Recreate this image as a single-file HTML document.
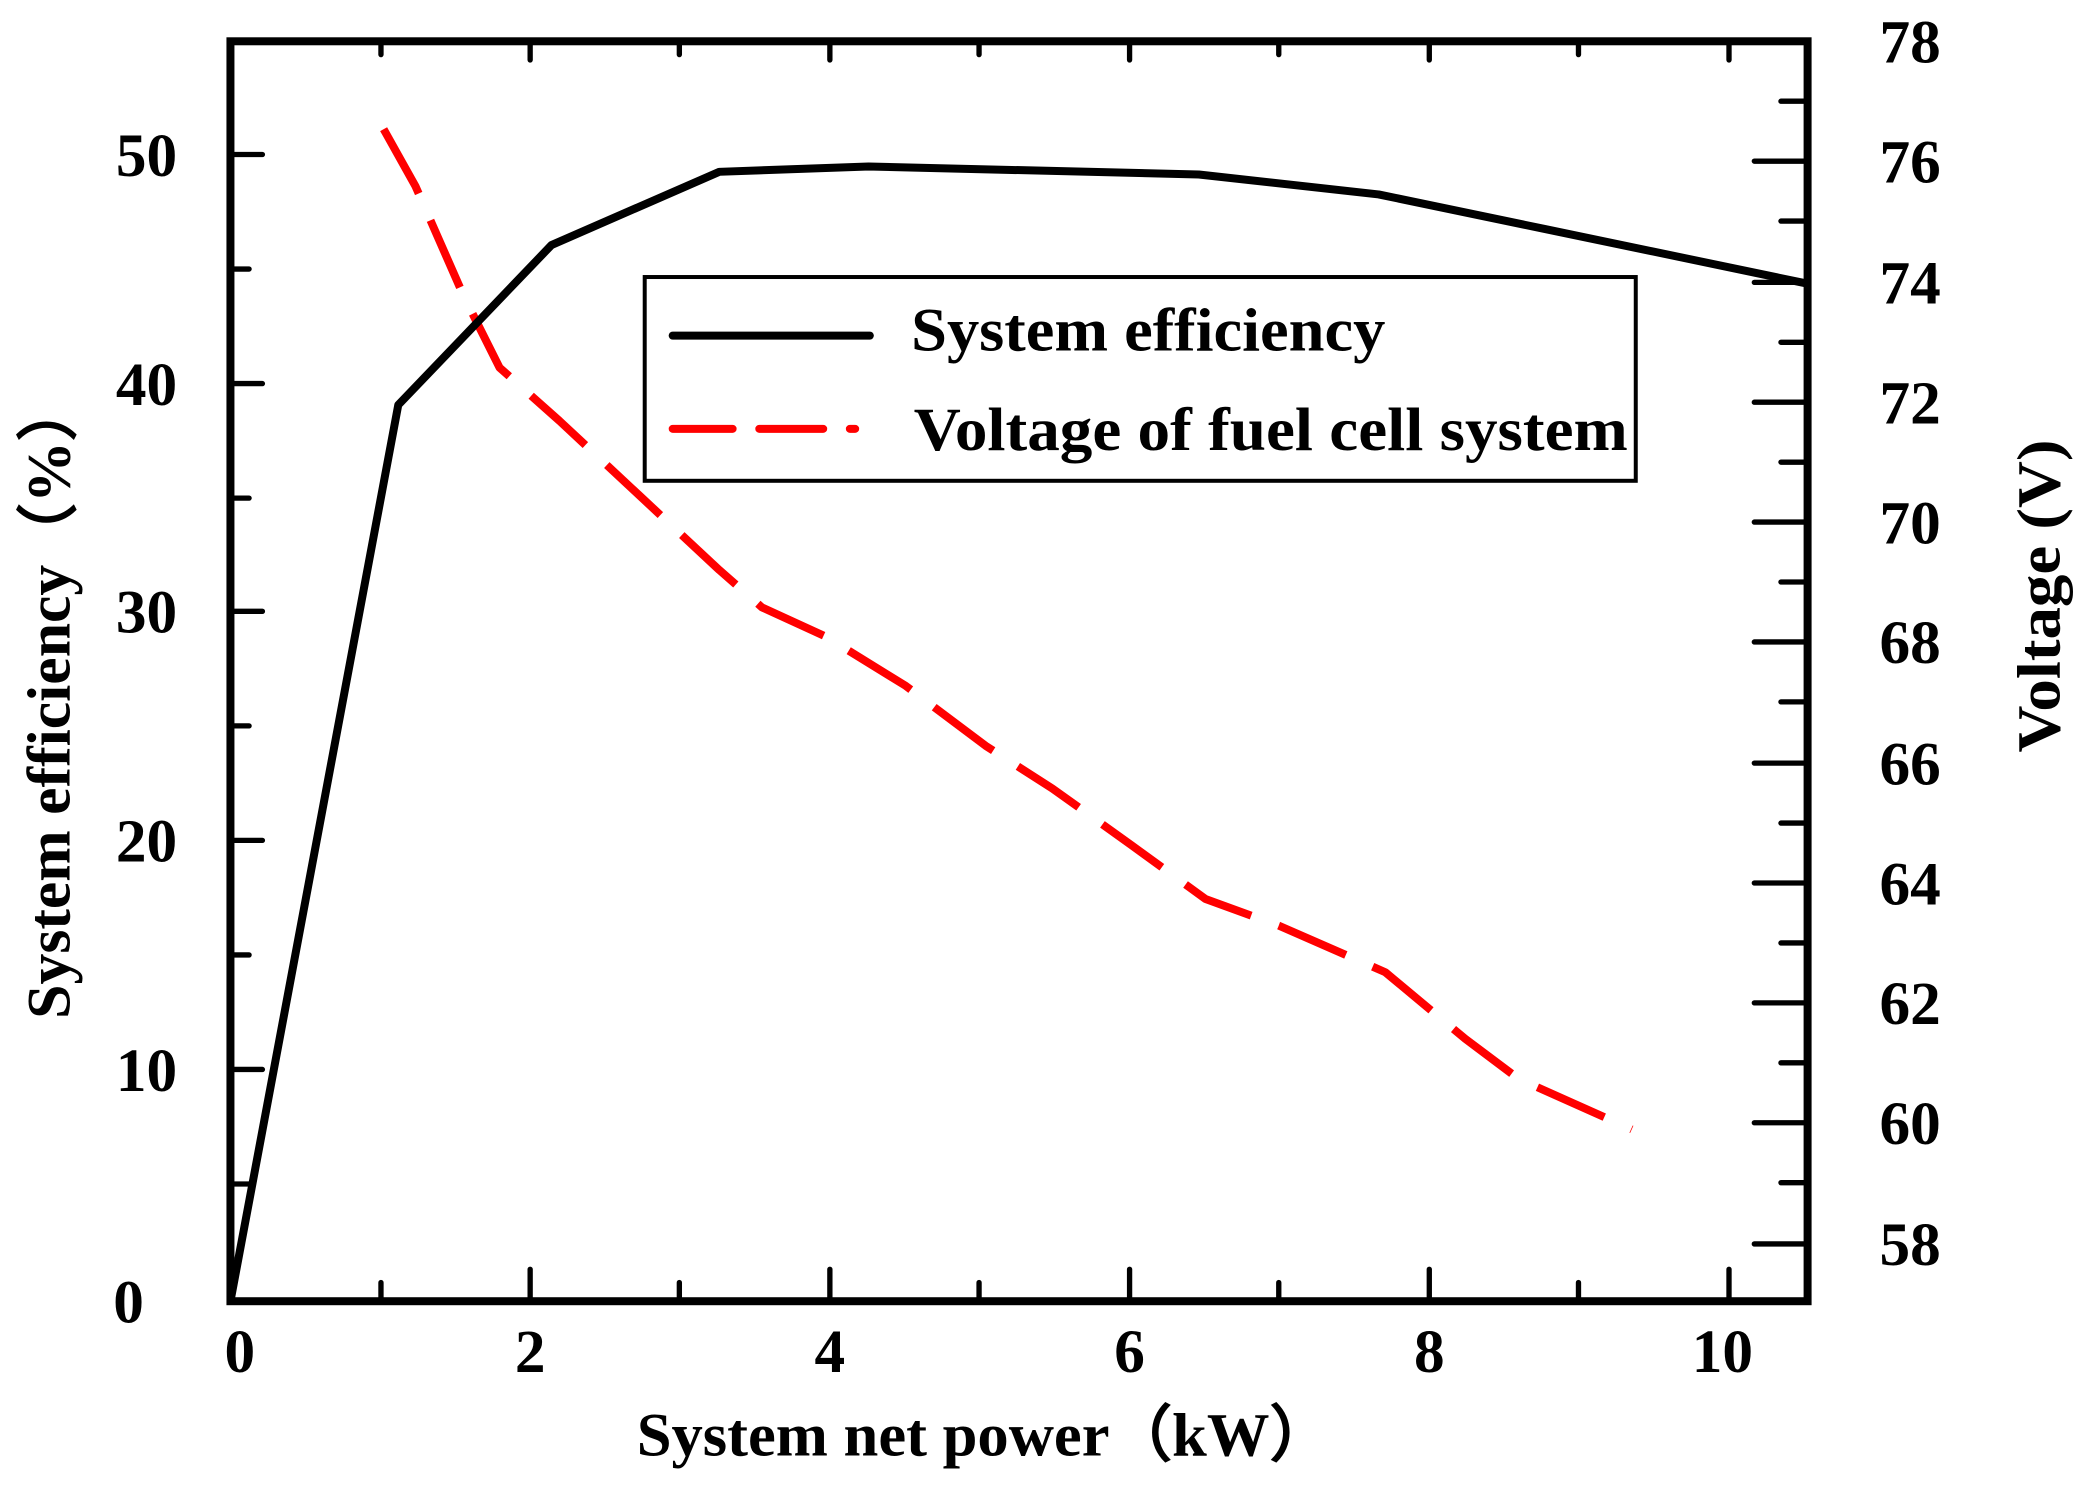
<!DOCTYPE html>
<html><head><meta charset="utf-8"><style>html,body{margin:0;padding:0;background:#fff}svg{display:block}</style></head>
<body>
<svg width="2078" height="1493" viewBox="0 0 1560 1121" preserveAspectRatio="none" xmlns="http://www.w3.org/2000/svg">
<g font-family="Liberation Serif, serif" font-weight="bold" fill="#000">
<polyline fill="none" stroke="#f00" stroke-width="6" stroke-dasharray="55 22" stroke-linejoin="round" points="288,97 312,140 348,222 375,276 420,316 480,372 540,428 572,456 620,478 680,515 740,560 790,592 850,635 905,675 960,695 1040,730 1100,780 1140,810 1225,848"/>
<polyline fill="none" stroke="#000" stroke-width="6" stroke-linejoin="round" points="173,977 299,304 414,184 540,129 652,125 900,131 1035,146 1160,172 1357,213"/>
<rect x="173" y="31" width="1184" height="946" fill="none" stroke="#000" stroke-width="6"/>
<g stroke="#000" stroke-width="4" stroke-linecap="round">
<path d="M398,977v-24M623,977v-24M848,977v-24M1073,977v-24M1298,977v-24M286,977v-14M510,977v-14M735,977v-14M960,977v-14M1185,977v-14M1298,31v14M1073,31v14M848,31v14M623,31v14M398,31v14M286,31v10M510,31v10M735,31v10M960,31v10M1185,31v10"/>
<path d="M173,803h24M173,631h24M173,459h24M173,288h24M173,116h24M173,889h14M173,717h14M173,545h14M173,374h14M173,202h14"/>
<path d="M1357,121h-40M1357,212h-40M1357,302h-40M1357,392h-40M1357,482h-40M1357,573h-40M1357,663h-40M1357,753h-40M1357,843h-40M1357,934h-40M1357,76h-20M1357,166h-20M1357,257h-20M1357,347h-20M1357,437h-20M1357,527h-20M1357,618h-20M1357,708h-20M1357,798h-20M1357,888h-20"/>
</g>
<g font-size="46" text-anchor="end">
<text x="133" y="132">50</text><text x="133" y="304">40</text><text x="133" y="475">30</text><text x="133" y="647">20</text><text x="133" y="819">10</text><text x="108" y="993">0</text>
</g>
<g font-size="46">
<text x="1411" y="47">78</text><text x="1411" y="137">76</text><text x="1411" y="228">74</text><text x="1411" y="318">72</text><text x="1411" y="408">70</text><text x="1411" y="498">68</text><text x="1411" y="589">66</text><text x="1411" y="679">64</text><text x="1411" y="769">62</text><text x="1411" y="859">60</text><text x="1411" y="950">58</text>
</g>
<g font-size="46" text-anchor="middle">
<text x="180" y="1030">0</text><text x="398" y="1030">2</text><text x="623" y="1030">4</text><text x="848" y="1030">6</text><text x="1073" y="1030">8</text><text x="1293" y="1030">10</text>
</g>
<text x="478" y="1093" font-size="46" textLength="522" lengthAdjust="spacingAndGlyphs">System net power（kW）</text>
<text transform="translate(52,765) rotate(-90)" font-size="46" textLength="480" lengthAdjust="spacingAndGlyphs">System efficiency（%）</text>
<text transform="translate(1546,565) rotate(-90)" font-size="46" textLength="235" lengthAdjust="spacingAndGlyphs">Voltage (V)</text>
<rect x="484" y="208" width="744" height="153" fill="#fff" stroke="#000" stroke-width="3"/>
<path d="M505,252H653" stroke="#000" stroke-width="6" stroke-linecap="round"/>
<path d="M505,322H550M570,322H618M638,322H642" stroke="#f00" stroke-width="6" stroke-linecap="round"/>
<text x="684" y="263" font-size="46" textLength="356" lengthAdjust="spacingAndGlyphs">System efficiency</text>
<text x="686" y="338" font-size="46" textLength="536" lengthAdjust="spacingAndGlyphs">Voltage of fuel cell system</text>
</g>
</svg>
</body></html>
